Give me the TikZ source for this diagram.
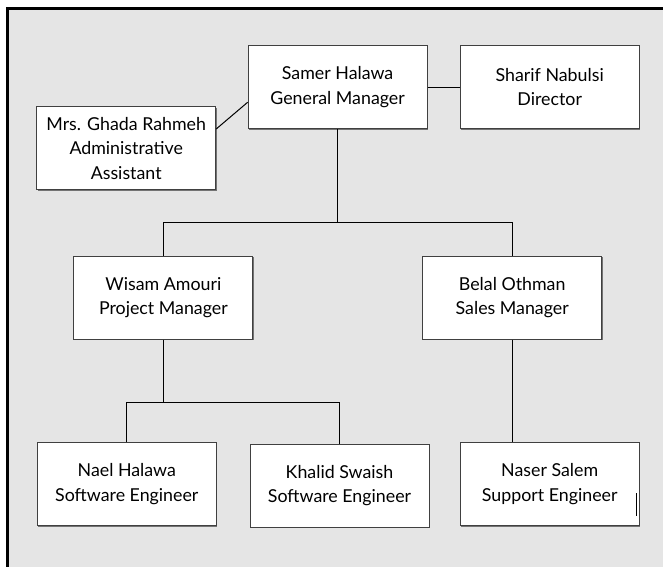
\documentclass[tikz,border=0pt]{standalone}
\usepackage{fontspec}
\setmainfont{Lato}
\usetikzlibrary{shadows}
\begin{document}
\begin{tikzpicture}[x=1pt,y=-1pt,
  box/.style={draw=black!75, line width=1pt, fill=white, align=center,
    minimum width=179pt, minimum height=83pt, inner sep=0pt,
    font=\fontsize{17.8}{24.5}\selectfont,
    drop shadow={shadow xshift=1pt, shadow yshift=-1pt, fill=black!55, opacity=1}},
  conn/.style={draw=black, line width=1pt}]
\useasboundingbox (0,0) rectangle (663,566);
\fill[white] (0,0) rectangle (663,566);
\draw[line width=3pt, fill=black!10] (7.2,8.8) rectangle (690,590);

\node[box] (samer)  at (337.6,87)   {Samer Halawa\\General Manager};
\node[box] (sharif) at (549.7,87)   {Sharif Nabulsi\\Director};
\node[box] (ghada)  at (126.2,148.3) {Mrs. Ghada Rahmeh\\Administrative\\Assistant};
\node[box] (wisam)  at (163.4,297.8) {Wisam Amouri\\Project Manager};
\node[box] (belal)  at (512.2,297.8) {Belal Othman\\Sales Manager};
\node[box] (nael)   at (126.8,484.2) {Nael Halawa\\Software Engineer};
\node[box] (khalid) at (339.5,485.8) {Khalid Swaish\\Software Engineer};
\node[box] (naser)  at (549.7,484.2) {Naser Salem\\Support Engineer};

\coordinate (j1) at (337.6,222.5);
\coordinate (j2) at (163.4,402.3);

\draw[conn] (samer.east) -- (sharif.west);
\draw[conn] (ghada.east |- samer.south) -- ([yshift=-15.3pt]samer.west);
\draw[conn] (samer.south) -- (j1);
\draw[conn] (wisam.north) |- (j1) -| (belal.north);
\draw[conn] (wisam.south) -- (j2);
\draw[conn] (nael.north) |- (j2) -| (khalid.north);
\draw[conn] (belal.south) -- (belal.south |- naser.north);

\draw[line width=1.3pt] (636.4,493.3) -- (636.4,516);
\end{tikzpicture}
\end{document}
